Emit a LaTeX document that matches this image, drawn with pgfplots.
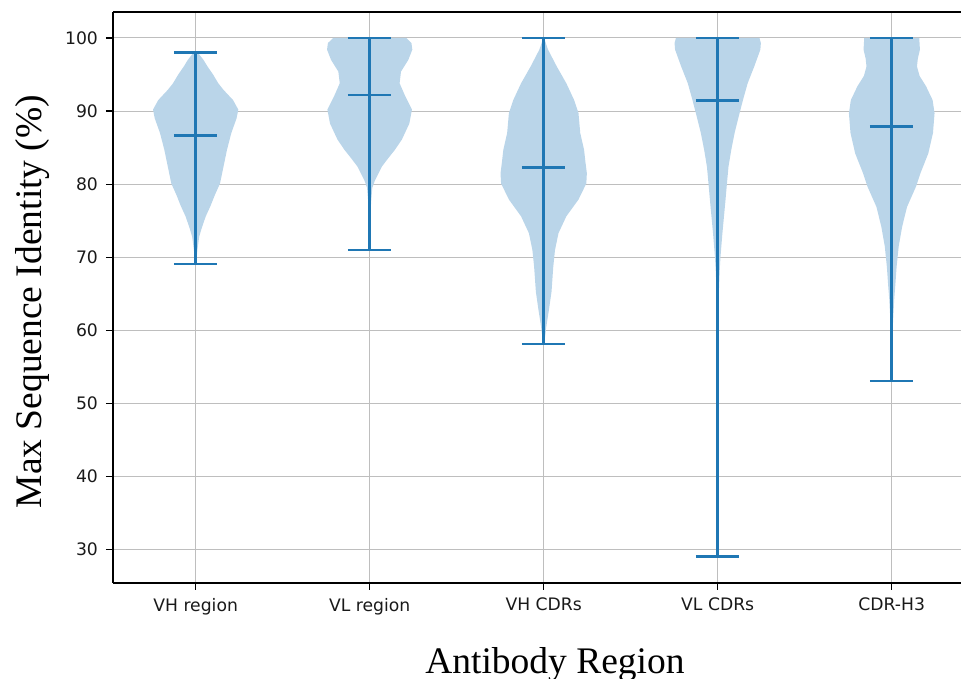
\documentclass[border=0pt]{standalone}
\usepackage{pgfplots}
\usepackage{pgfplotstable}
\pgfplotsset{compat=1.18}
\usepackage{fontspec}
\newfontfamily\dvs{DejaVu Sans}
\newfontfamily\lserif{Liberation Serif}
\definecolor{cz}{HTML}{1F77B4}
\definecolor{vfill}{RGB}{186,213,233}
\definecolor{gridc}{RGB}{190,190,190}

% violin half-widths (y, w) in x-axis units
\pgfplotstableread{
y w
69.2 0
69.2 0.003
71.0 0.01
72.8 0.02
74.0 0.035
75.6 0.058
77.0 0.085
78.5 0.11
80.1 0.14
82.4 0.16
84.7 0.18
87.0 0.205
89.0 0.235
90.2 0.245
91.5 0.215
92.9 0.16
93.8 0.13
95.0 0.10
96.1 0.068
97.0 0.045
98.0 0.012
98.0 0
}\vA
\pgfplotstableread{
y w
71.0 0
71.0 0.002
75.0 0.004
77.5 0.008
79.5 0.015
80.5 0.03
82.4 0.07
83.5 0.105
84.7 0.145
86.1 0.185
88.3 0.228
90.2 0.243
92.0 0.205
93.8 0.172
95.4 0.18
97.0 0.222
98.4 0.245
99.3 0.24
100 0.21
100 0
}\vB
\pgfplotstableread{
y w
58.2 0
58.2 0.003
60.5 0.015
62.8 0.03
65.3 0.045
68.7 0.055
71.0 0.065
73.3 0.085
75.6 0.13
77.9 0.20
80.1 0.245
81.5 0.248
83.0 0.24
84.7 0.232
87.0 0.21
89.7 0.20
91.5 0.175
93.8 0.13
96.1 0.075
98.4 0.025
100 0.002
100 0
}\vC
\pgfplotstableread{
y w
29.1 0
29.1 0.001
50.0 0.001
60.0 0.002
65.0 0.006
68.0 0.011
70.1 0.016
73.3 0.027
75.6 0.036
77.9 0.045
80.1 0.053
82.4 0.062
84.7 0.078
87.0 0.097
89.2 0.12
91.5 0.145
93.8 0.172
96.1 0.21
98.4 0.245
99.3 0.248
100 0.24
100 0
}\vD
\pgfplotstableread{
y w
53.1 0
53.1 0.001
57.0 0.003
60.5 0.006
64.2 0.014
66.0 0.02
68.7 0.028
71.5 0.04
74.2 0.06
76.9 0.088
79.7 0.14
81.5 0.165
84.2 0.21
87.0 0.237
89.7 0.246
91.5 0.235
93.4 0.197
94.8 0.16
96.1 0.145
97.2 0.15
98.4 0.162
100 0.158
100 0
}\vE

\begin{document}
\begin{tikzpicture}
\begin{axis}[
  name=ax,
  scale only axis,
  width=424pt, height=285.5pt,
  xmin=0.525, xmax=5.398,
  ymin=25.45, ymax=103.55,
  axis x line*=box, axis y line*=left,
  axis line style={black, line width=0.6pt},
  tick pos=left,
  tick align=outside,
  major tick length=3.5pt,
  tick style={black, line width=0.6pt},
  xtick={1,2,3,4,5},
  xticklabels={VH region, VL region, VH CDRs, VL CDRs, CDR-H3},
  ytick={30,40,50,60,70,80,90,100},
  grid=major,
  major grid style={gridc, line width=0.5pt},
  /pgf/number format/assume math mode=true,
  ticklabel style={font=\dvs\fontsize{8.6}{9}\selectfont, text=black!90},
  yticklabel style={xshift=-0.5pt},
  xticklabel style={yshift=-0.5pt},
]
% violin bodies: right half then left half
\addplot[fill=vfill, draw=none] table[x expr=1+\thisrow{w}, y=y] {\vA} -- cycle;
\addplot[fill=vfill, draw=none] table[x expr=1-\thisrow{w}, y=y] {\vA} -- cycle;
\addplot[fill=vfill, draw=none] table[x expr=2+\thisrow{w}, y=y] {\vB} -- cycle;
\addplot[fill=vfill, draw=none] table[x expr=2-\thisrow{w}, y=y] {\vB} -- cycle;
\addplot[fill=vfill, draw=none] table[x expr=3+\thisrow{w}, y=y] {\vC} -- cycle;
\addplot[fill=vfill, draw=none] table[x expr=3-\thisrow{w}, y=y] {\vC} -- cycle;
\addplot[fill=vfill, draw=none] table[x expr=4+\thisrow{w}, y=y] {\vD} -- cycle;
\addplot[fill=vfill, draw=none] table[x expr=4-\thisrow{w}, y=y] {\vD} -- cycle;
\addplot[fill=vfill, draw=none] table[x expr=5+\thisrow{w}, y=y] {\vE} -- cycle;
\addplot[fill=vfill, draw=none] table[x expr=5-\thisrow{w}, y=y] {\vE} -- cycle;
% extrema bars and means
\addplot[cz, line width=1.3pt, mark=none, unbounded coords=jump] coordinates {(1,69.1) (1,98.0) (nan,nan) (0.875,69.1) (1.125,69.1) (nan,nan) (0.875,98.0) (1.125,98.0) (nan,nan) (0.875,86.64) (1.125,86.64)};
\addplot[cz, line width=1.3pt, mark=none, unbounded coords=jump] coordinates {(2,70.97) (2,100) (nan,nan) (1.875,70.97) (2.125,70.97) (nan,nan) (1.875,100) (2.125,100) (nan,nan) (1.875,92.2) (2.125,92.2)};
\addplot[cz, line width=1.3pt, mark=none, unbounded coords=jump] coordinates {(3,58.12) (3,100) (nan,nan) (2.875,58.12) (3.125,58.12) (nan,nan) (2.875,100) (3.125,100) (nan,nan) (2.875,82.27) (3.125,82.27)};
\addplot[cz, line width=1.3pt, mark=none, unbounded coords=jump] coordinates {(4,29.1) (4,100) (nan,nan) (3.875,29.1) (4.125,29.1) (nan,nan) (3.875,100) (4.125,100) (nan,nan) (3.875,91.43) (4.125,91.43)};
\addplot[cz, line width=1.3pt, mark=none, unbounded coords=jump] coordinates {(5,53.06) (5,100) (nan,nan) (4.875,53.06) (5.125,53.06) (nan,nan) (4.875,100) (5.125,100) (nan,nan) (4.875,87.87) (5.125,87.87)};
\end{axis}
\node[rotate=90, anchor=base, font=\lserif\fontsize{18.75}{20}\selectfont] at ([xshift=-35.5pt, yshift=-2pt]ax.west) {Max Sequence Identity (\%)};
\node[anchor=base, font=\lserif\fontsize{18.75}{20}\selectfont] at ([xshift=221pt, yshift=-45.5pt]ax.south west) {Antibody Region};
\pgfresetboundingbox
\path[use as bounding box] ([xshift=-56.5pt, yshift=-48pt]ax.south west) rectangle ([yshift=6pt]ax.north east);
\end{tikzpicture}
\end{document}
